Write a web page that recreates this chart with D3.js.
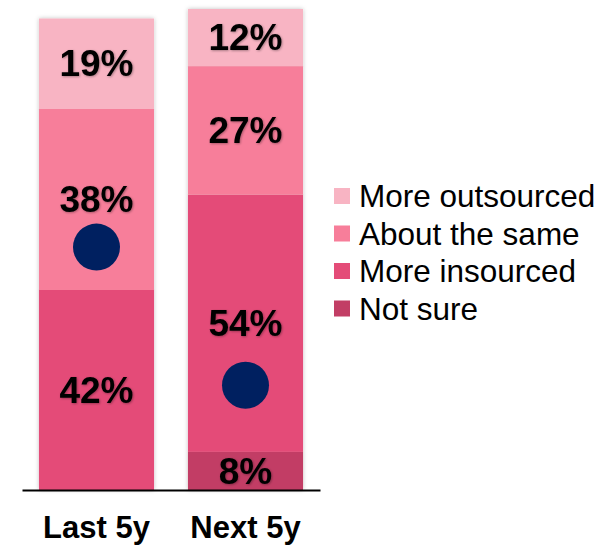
<!DOCTYPE html>
<html>
<head>
<meta charset="utf-8">
<title>Outsourcing trend</title>
<style>
  body { margin: 0; background: #fff; }
  svg { display: block; font-family: "Liberation Sans", Arial, sans-serif; }
</style>
</head>
<body>
<div id="chart"></div>
<script src="https://d3js.org/d3.v7.min.js"></script>
<script>
// categories and series (bottom to top)
var categories = ["Last 5y", "Next 5y"];
var seriesNames = ["Not sure", "More insourced", "About the same", "More outsourced"];
var notSure = [0, 8];
var moreInsourced = [42, 54];
var aboutSame = [38, 27];
var moreOutsourced = [19, 12];
// navy marker per bar
var dotValues = [51, 22];

var colors = {
  "More outsourced": "#f8b4c3",
  "About the same": "#f77e9a",
  "More insourced": "#e44c78",
  "Not sure": "#c23e65"
};

var width = 602, height = 545;

var svg = d3.select("#chart").append("svg")
  .attr("width", width)
  .attr("height", height);

var defs = svg.append("defs");
defs.append("filter").attr("id", "barShadow")
  .attr("x", "-10%").attr("y", "-5%").attr("width", "120%").attr("height", "110%")
  .append("feDropShadow")
  .attr("dx", 0).attr("dy", 0).attr("stdDeviation", 2)
  .attr("flood-color", "#000").attr("flood-opacity", 0.25);
defs.append("filter").attr("id", "textShadow")
  .append("feDropShadow")
  .attr("dx", 0.8).attr("dy", 0.8).attr("stdDeviation", 0.8)
  .attr("flood-color", "#000").attr("flood-opacity", 0.35);

// build table for stacking
var rows = categories.map(function(c, i) {
  return {
    cat: c,
    "Not sure": notSure[i],
    "More insourced": moreInsourced[i],
    "About the same": aboutSame[i],
    "More outsourced": moreOutsourced[i]
  };
});

var stacked = d3.stack().keys(seriesNames)(rows);

var x = d3.scaleBand()
  .domain(categories)
  .range([22, 320])
  .paddingInner(0.228)
  .paddingOuter(0.114);

var y = d3.scaleLinear()
  .domain([0, 101])
  .range([490, 9]);

var bars = svg.append("g").attr("filter", "url(#barShadow)");

bars.selectAll("g.series")
  .data(stacked)
  .enter().append("g")
  .attr("class", "series")
  .attr("fill", function(d) { return colors[d.key]; })
  .selectAll("rect")
  .data(function(d) { return d.filter(function(p) { return p[1] - p[0] > 0; }); })
  .enter().append("rect")
  .attr("x", function(d) { return x(d.data.cat); })
  .attr("width", x.bandwidth())
  .attr("y", function(d) { return y(d[1]); })
  .attr("height", function(d) { return y(d[0]) - y(d[1]); });

// segment labels
var labels = svg.append("g").attr("filter", "url(#textShadow)");
stacked.forEach(function(s) {
  s.forEach(function(p) {
    var v = p[1] - p[0];
    if (v <= 0) return;
    labels.append("text")
      .attr("x", x(p.data.cat) + x.bandwidth() / 2)
      .attr("y", (y(p[0]) + y(p[1])) / 2)
      .attr("dy", "0.34em")
      .attr("text-anchor", "middle")
      .style("font-size", "37px")
      .style("font-weight", "bold")
      .attr("fill", "#000")
      .text(v + "%");
  });
});

// markers
svg.append("g").selectAll("circle")
  .data(dotValues)
  .enter().append("circle")
  .attr("cx", function(d, i) { return x(categories[i]) + x.bandwidth() / 2; })
  .attr("cy", function(d) { return y(d); })
  .attr("r", 23.5)
  .attr("fill", "#002060");

// x axis
var xAxis = d3.axisBottom(x).tickSize(0).tickPadding(26);
var gx = svg.append("g")
  .attr("transform", "translate(0," + 490 + ")")
  .call(xAxis);
gx.select(".domain").attr("stroke", "#000").attr("stroke-width", 2);
gx.selectAll("text")
  .style("font-family", "'Liberation Sans', Arial, sans-serif")
  .style("font-size", "31px")
  .style("font-weight", "bold")
  .attr("fill", "#000");

// legend
var legendNames = seriesNames.slice().reverse();
var legend = svg.append("g").attr("transform", "translate(334,188)");
var item = legend.selectAll("g")
  .data(legendNames)
  .enter().append("g")
  .attr("transform", function(d, i) { return "translate(0," + (i * 37.5) + ")"; });
item.append("rect")
  .attr("width", 16).attr("height", 16)
  .attr("fill", function(d) { return colors[d]; });
item.append("text")
  .attr("x", 25)
  .attr("y", 19)
  .style("font-size", "31.5px")
  .attr("fill", "#000")
  .text(function(d) { return d; });
</script>
</body>
</html>
